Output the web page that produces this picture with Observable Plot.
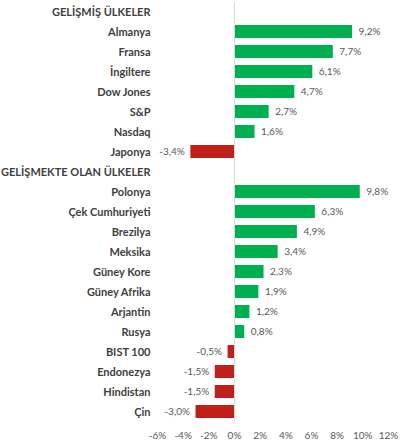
<!DOCTYPE html>
<html>
<head>
<meta charset="utf-8">
<script src="https://cdn.jsdelivr.net/npm/d3@7"></script>
<script src="https://cdn.jsdelivr.net/npm/@observablehq/plot@0.6"></script>
<style>
  html, body { margin: 0; padding: 0; background: #fff; }
  #chart svg { display: block; }
</style>
</head>
<body>
<div id="chart"></div>
<script>
const categories = [
  "GELİŞMİŞ ÜLKELER", "Almanya", "Fransa", "İngiltere", "Dow Jones", "S&P", "Nasdaq", "Japonya",
  "GELİŞMEKTE OLAN ÜLKELER", "Polonya", "Çek Cumhuriyeti", "Brezilya", "Meksika", "Güney Kore",
  "Güney Afrika", "Arjantin", "Rusya", "BIST 100", "Endonezya", "Hindistan", "Çin"
];
const values = [
  null, 9.2, 7.7, 6.1, 4.7, 2.7, 1.6, -3.4,
  null, 9.8, 6.3, 4.9, 3.4, 2.3,
  1.9, 1.2, 0.8, -0.5, -1.5, -1.5, -3.0
];
const xTicks = [-6, -4, -2, 0, 2, 4, 6, 8, 10, 12];

const data = categories.map((c, i) => ({ name: c, value: values[i] })).filter(d => d.value != null);
const pos = data.filter(d => d.value >= 0);
const neg = data.filter(d => d.value < 0);
const fmt = v => v.toFixed(1).replace(".", ",") + "%";

const chart = Plot.plot({
  width: 403,
  height: 445,
  marginLeft: 157,
  marginRight: 15,
  marginTop: 2,
  marginBottom: 24,
  style: { fontFamily: "Lato, 'Open Sans', sans-serif", fontSize: "10px", color: "#595959", background: "#fff" },
  x: { domain: [-6, 12], ticks: xTicks, tickFormat: d => d + "%" },
  y: { domain: categories, padding: 0.33, paddingOuter: 0 },
  marks: [
    Plot.axisX({ ticks: xTicks, tickFormat: d => d + "%", tickSize: 0, tickPadding: 10, fontSize: 10, color: "#595959", label: null }),
    Plot.axisY({ tickSize: 0, tickPadding: 7, fontSize: 11, fontWeight: "bold", fill: "#404040", label: null }),
    Plot.barX(data, { y: "name", x1: 0, x2: "value", fill: d => d.value >= 0 ? "#00B050" : "#C0201A" }),
    Plot.ruleX([0], { stroke: "#d9d9d9" }),
    Plot.text(pos, { y: "name", x: "value", text: d => fmt(d.value), textAnchor: "start", dx: 6, fill: "#595959", fontSize: 10 }),
    Plot.text(neg, { y: "name", x: "value", text: d => fmt(d.value), textAnchor: "end", dx: -6, fill: "#595959", fontSize: 10 })
  ]
});
document.getElementById("chart").appendChild(chart);
</script>
</body>
</html>
